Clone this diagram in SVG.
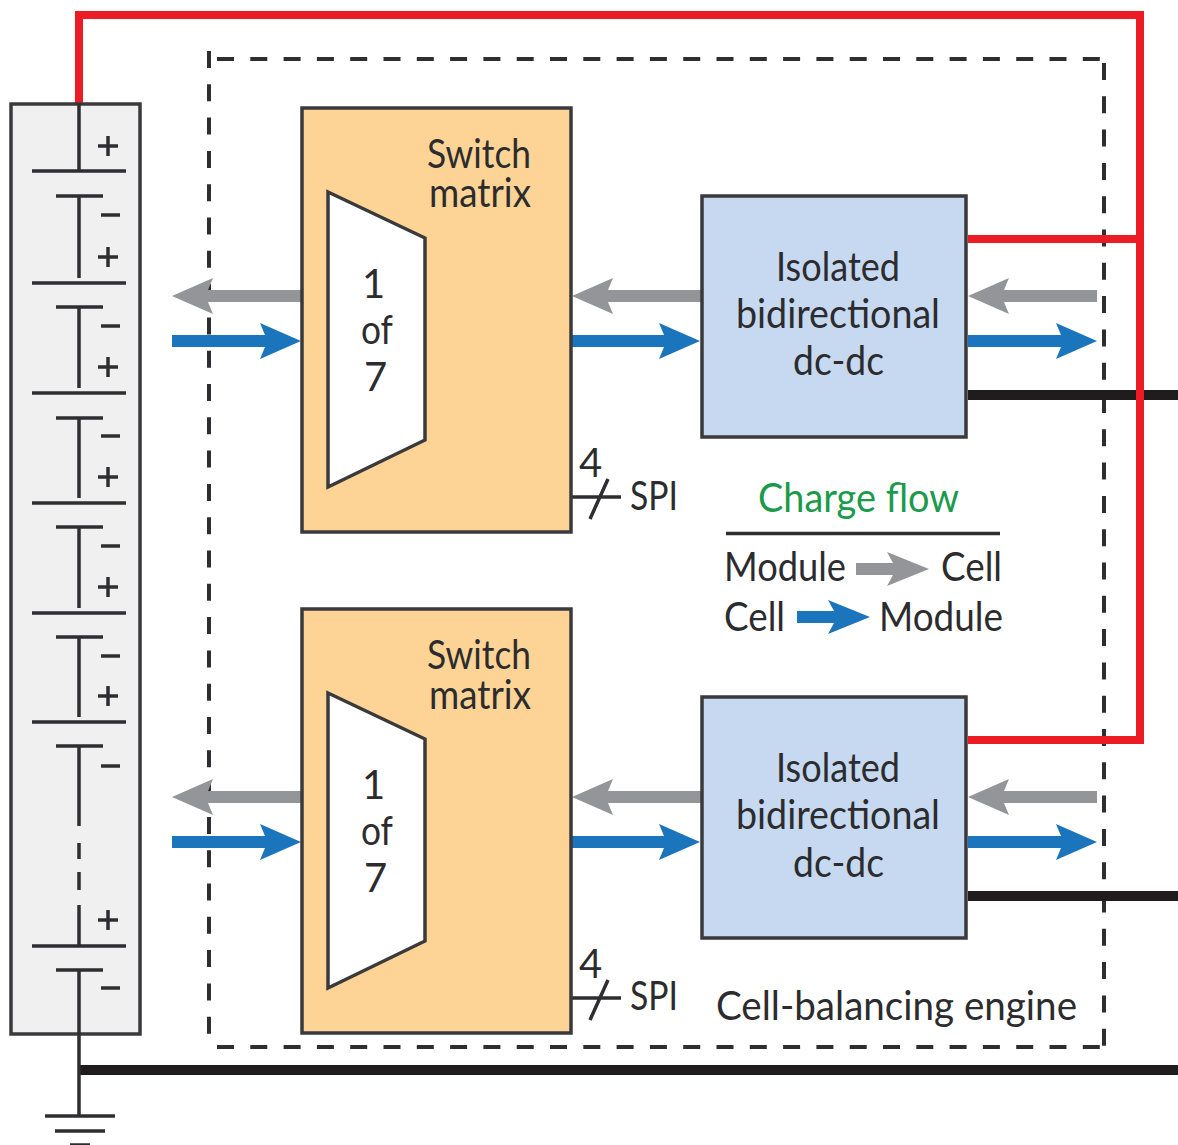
<svg xmlns="http://www.w3.org/2000/svg" xmlns:xlink="http://www.w3.org/1999/xlink" width="1178" height="1145" viewBox="0 0 1178 1145">
<style>
text{font-family:"Lato","Liberation Sans",sans-serif;fill:#2c2c2e;font-size:40px}
.box{stroke:#3a3a3c;stroke-width:3.500}
.sw{fill:#fdd495}
.dc{fill:#c6d9f0}
.w{stroke:#2e2e30;stroke-width:3.500;fill:none}
.red{stroke:#ed1c24;stroke-width:8;fill:none}
.blk{stroke:#1e1c1d;stroke-width:10;fill:none}
.dash{stroke:#2e2e30;stroke-width:4;fill:none;stroke-dasharray:17 16.300}
</style>
<defs>
<polygon id="ar" points="0,-6 93,-6 88,-18 129,0 88,18 93,6 0,6"/>
<polygon id="ar2" points="0,-6 37,-6 31,-17 73,0 31,17 37,6 0,6"/>
</defs>
<g id="engine-border">
<path class="dash" d="M217 59H1104M217 1047H1104M209 51V1040M1104 63V1047"/>
</g>
<g id="connectors">
<path class="blk" d="M968 395H1178M968 896H1178M79 1070H1178"/>
<path class="red" d="M79 103V15H1140V740H968M968 239H1140"/>
<g fill="#939598">
<use xlink:href="#ar" transform="translate(301,296) rotate(180)"/>
<use xlink:href="#ar" transform="translate(301,797) rotate(180)"/>
<use xlink:href="#ar" transform="translate(701,296) rotate(180)"/>
<use xlink:href="#ar" transform="translate(701,797) rotate(180)"/>
<use xlink:href="#ar" transform="translate(1097,296) rotate(180)"/>
<use xlink:href="#ar" transform="translate(1097,797) rotate(180)"/>
</g>
<g fill="#1b75bc">
<use xlink:href="#ar" transform="translate(172,341)"/>
<use xlink:href="#ar" transform="translate(172,842)"/>
<use xlink:href="#ar" transform="translate(571,341)"/>
<use xlink:href="#ar" transform="translate(571,842)"/>
<use xlink:href="#ar" transform="translate(968,341)"/>
<use xlink:href="#ar" transform="translate(968,842)"/>
</g>
<path class="w" d="M571 497H621M590 519L608 479M571 998H621M590 1020L608 980"/>
</g>
<g id="battery">
<rect class="box" x="11" y="104" width="129" height="930" fill="#f0f0f1"/>
<path class="w" d="M79 104V171M32 171H126M56 196H103M79 196V278M32 283H126M56 307H103M79 307V388M32 393H126M56 418H103M79 418V498M32 503H126M56 527H103M79 527V608M32 613H126M56 637H103M79 637V717M32 722H126M56 746H103M79 746V826M79 843V859M79 872V890M79 905V946M32 946H126M56 970H103M79 970V1116"/>
<path class="w" d="M98 146H118M108 136V156M101 215H120M98 257H118M108 247V267M101 326H120M98 367H118M108 357V377M101 436H120M98 477H118M108 467V487M101 546H120M98 587H118M108 577V597M101 656H120M98 696H118M108 686V706M101 766H120M98 920H118M108 910V930M101 988H120"/>
<path class="w" d="M45 1116H115M55 1131H105M70 1145H90"/>
</g>
<g id="switch1">
<rect class="box sw" x="302" y="108" width="269" height="424"/>
<polygon class="box" fill="#fff" points="328,192 425,238 425,440 328,487"/>
<text><tspan x="427" y="168" textLength="104" lengthAdjust="spacingAndGlyphs">Switch</tspan><tspan x="429" y="207" textLength="102" lengthAdjust="spacingAndGlyphs">matrix</tspan></text>
<text x="362" y="298">1</text>
<text x="361" y="344" textLength="32" lengthAdjust="spacingAndGlyphs">of</text>
<text x="364" y="391">7</text>
</g>
<g id="switch2">
<rect class="box sw" x="302" y="609" width="269" height="424"/>
<polygon class="box" fill="#fff" points="328,693 425,739 425,941 328,988"/>
<text><tspan x="427" y="669" textLength="104" lengthAdjust="spacingAndGlyphs">Switch</tspan><tspan x="429" y="709" textLength="102" lengthAdjust="spacingAndGlyphs">matrix</tspan></text>
<text x="362" y="799">1</text>
<text x="361" y="845" textLength="32" lengthAdjust="spacingAndGlyphs">of</text>
<text x="364" y="892">7</text>
</g>
<g id="dcdc1">
<rect class="box dc" x="702" y="196" width="264" height="241"/>
<text x="776" y="281" textLength="124" lengthAdjust="spacingAndGlyphs">Isolated</text>
<text x="736" y="328" textLength="204" lengthAdjust="spacingAndGlyphs">bidirectional</text>
<text x="793" y="375" textLength="91" lengthAdjust="spacingAndGlyphs">dc-dc</text>
</g>
<g id="dcdc2">
<rect class="box dc" x="702" y="697" width="264" height="241"/>
<text x="776" y="782" textLength="124" lengthAdjust="spacingAndGlyphs">Isolated</text>
<text x="736" y="829" textLength="204" lengthAdjust="spacingAndGlyphs">bidirectional</text>
<text x="793" y="877" textLength="91" lengthAdjust="spacingAndGlyphs">dc-dc</text>
</g>
<g id="spi1"><text x="579" y="477">4</text><text x="630" y="510" textLength="48" lengthAdjust="spacingAndGlyphs">SPI</text></g>
<g id="spi2"><text x="579" y="978">4</text><text x="630" y="1010" textLength="48" lengthAdjust="spacingAndGlyphs">SPI</text></g>
<g id="legend">
<text x="758" y="512" textLength="201" lengthAdjust="spacingAndGlyphs" style="fill:#1a9a4a">Charge flow</text>
<path d="M726 533.500H1000" stroke="#2e2e30" stroke-width="3.500"/>
<text x="724" y="581" textLength="122" lengthAdjust="spacingAndGlyphs">Module</text>
<use xlink:href="#ar2" transform="translate(856,569)" fill="#939598"/>
<text x="941" y="581" textLength="61" lengthAdjust="spacingAndGlyphs">Cell</text>
<text x="724" y="631" textLength="61" lengthAdjust="spacingAndGlyphs">Cell</text>
<use xlink:href="#ar2" transform="translate(797,617)" fill="#1b75bc"/>
<text x="879" y="631" textLength="124" lengthAdjust="spacingAndGlyphs">Module</text>
</g>
<text id="engine-label" x="716" y="1020" textLength="361" lengthAdjust="spacingAndGlyphs">Cell-balancing engine</text>
</svg>
